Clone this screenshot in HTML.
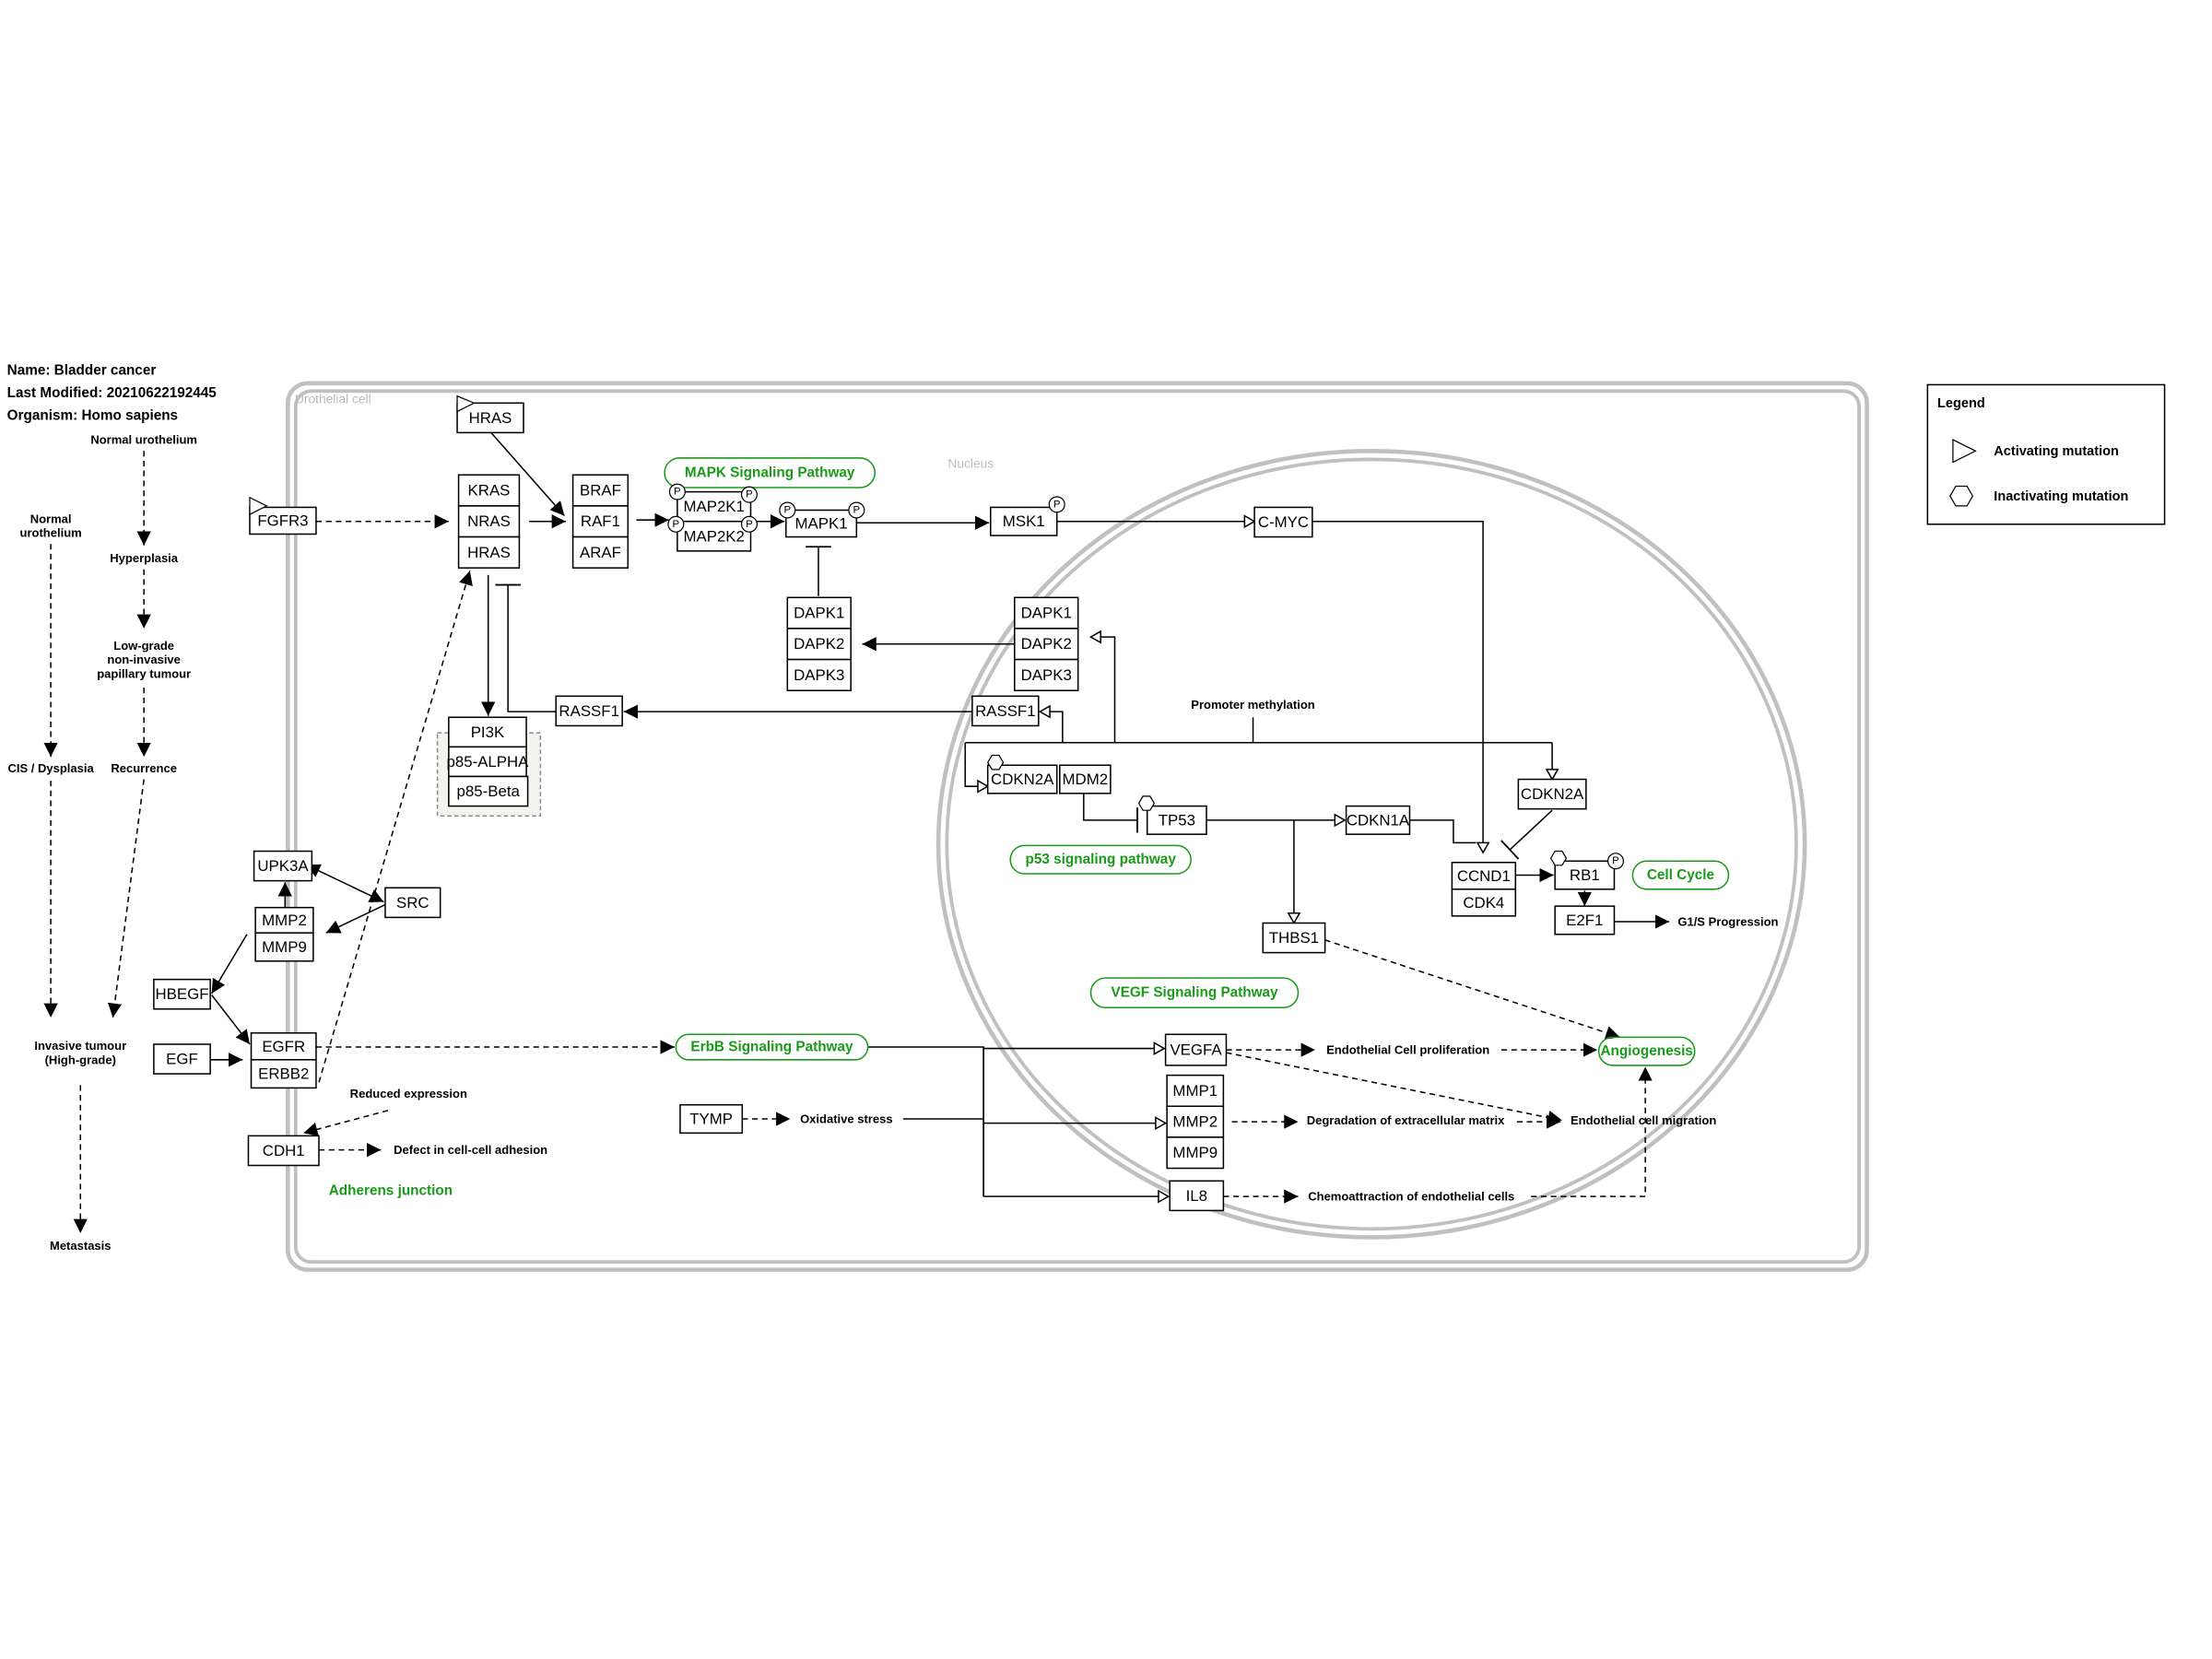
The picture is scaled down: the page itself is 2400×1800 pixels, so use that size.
<!DOCTYPE html>
<html><head><meta charset="utf-8"><style>
html,body{margin:0;padding:0;background:#fff;width:2400px;height:1800px;overflow:hidden}
text{font-family:"Liberation Sans",Arial,sans-serif}
.n{font-size:11px;fill:#000;text-anchor:middle;dominant-baseline:central}
.b{font-size:8.5px;font-weight:bold;fill:#000}
.g{font-size:10px;font-weight:bold;fill:#1a9a1a;text-anchor:middle;dominant-baseline:central}
rect.bx{fill:#fff;stroke:#000;stroke-width:1}
.l{stroke:#000;stroke-width:1;fill:none}
.d{stroke:#000;stroke-width:1;fill:none;stroke-dasharray:4,3}
.p{fill:none;stroke:#1a9a1a;stroke-width:1}
</style></head><body>
<svg width="2400" height="1800" xmlns="http://www.w3.org/2000/svg">
<defs>
<marker id="a" markerWidth="12" markerHeight="10" refX="10" refY="5" orient="auto" markerUnits="userSpaceOnUse"><path d="M0,0 L10,5 L0,10 Z" fill="#000"/></marker>
<marker id="a2" markerWidth="12" markerHeight="10" refX="2" refY="5" orient="auto-start-reverse" markerUnits="userSpaceOnUse"><path d="M0,0 L10,5 L0,10 Z" fill="#000"/></marker>
<marker id="o" markerWidth="10" markerHeight="10" refX="8" refY="5" orient="auto" markerUnits="userSpaceOnUse"><path d="M1,1 L8,5 L1,9 Z" fill="#fff" stroke="#000" stroke-width="1"/></marker>
<marker id="t" markerWidth="4" markerHeight="18" refX="2" refY="9" orient="auto" markerUnits="userSpaceOnUse"><path d="M2,0 L2,18" stroke="#000" stroke-width="1.2"/></marker>
</defs>
<g transform="scale(1.531,1.529)">
<!-- header -->
<text x="5" y="266" style="font-size:10px;font-weight:bold">Name: Bladder cancer</text>
<text x="5" y="282" style="font-size:10px;font-weight:bold">Last Modified: 20210622192445</text>
<text x="5" y="298" style="font-size:10px;font-weight:bold">Organism: Homo sapiens</text>
<!-- progression -->
<g class="b" text-anchor="middle">
<text x="102" y="315">Normal urothelium</text>
<text x="102" y="399">Hyperplasia</text>
<text x="102" y="461">Low-grade</text><text x="102" y="471">non-invasive</text><text x="102" y="481">papillary tumour</text>
<text x="102" y="548">Recurrence</text>
<text x="36" y="371">Normal</text><text x="36" y="381">urothelium</text>
<text x="36" y="548">CIS / Dysplasia</text>
<text x="57" y="745">Invasive tumour</text><text x="57" y="755">(High-grade)</text>
<text x="57" y="887">Metastasis</text>
</g>
<path class="d" d="M102,320 V387" marker-end="url(#a)"/>
<path class="d" d="M102,404 V446" marker-end="url(#a)"/>
<path class="d" d="M102,488 V537" marker-end="url(#a)"/>
<path class="d" d="M102,553 L80,722" marker-end="url(#a)"/>
<path class="d" d="M36,386 V537" marker-end="url(#a)"/>
<path class="d" d="M36,554 V722" marker-end="url(#a)"/>
<path class="d" d="M57,770 V875" marker-end="url(#a)"/>
<!-- cell -->
<rect x="204" y="272" width="1119" height="629" rx="14" fill="none" stroke="#c0c0c0" stroke-width="3"/>
<rect x="209.5" y="277.5" width="1108" height="618" rx="11" fill="none" stroke="#c0c0c0" stroke-width="2.5"/>
<text x="209" y="286" style="font-size:9px;fill:#bbb">Urothelial cell</text>
<ellipse cx="972" cy="599" rx="307" ry="279" fill="none" stroke="#c0c0c0" stroke-width="3"/>
<ellipse cx="972" cy="599" rx="301" ry="273" fill="none" stroke="#c0c0c0" stroke-width="2.5"/>
<text x="688" y="332" style="font-size:9px;fill:#bbb" text-anchor="middle">Nucleus</text>
<!-- group PI3K -->
<rect x="310" y="520" width="73" height="59" fill="#f4f4ee" stroke="#888" stroke-dasharray="3,2"/>
<!-- edges -->
<path class="d" d="M224,370 H318" marker-end="url(#a)"/>
<path class="l" d="M348,307 L400,366" marker-end="url(#a)"/>
<path class="l" d="M375,370 H401" marker-end="url(#a)"/>
<path class="l" d="M451,369 H474" marker-end="url(#a)"/>
<path class="l" d="M533,370 H556" marker-end="url(#a)"/>
<path class="l" d="M607,371 H701" marker-end="url(#a)"/>
<path class="l" d="M749,370 H889" marker-end="url(#o)"/>
<path class="l" d="M930,370 H1051 V605" marker-end="url(#o)"/>
<path class="l" d="M580,423 V388" marker-end="url(#t)"/>
<path class="l" d="M719,457 H611" marker-end="url(#a)"/>
<path class="l" d="M689,505 H442" marker-end="url(#a)"/>
<path class="l" d="M394,505 H360 V415" marker-end="url(#t)"/>
<path class="l" d="M346,408 V508" marker-end="url(#a)"/>
<text x="888" y="503" class="b" text-anchor="middle">Promoter methylation</text>
<path class="l" d="M888,509 V527 M684,527 H1100"/>
<path class="l" d="M1100,527 V553" marker-end="url(#o)"/>
<path class="l" d="M684,527 V558 H700" marker-end="url(#o)"/>
<path class="l" d="M753,527 V505 H737" marker-end="url(#o)"/>
<path class="l" d="M790,527 V452 H773" marker-end="url(#o)"/>
<path class="l" d="M768,563 V582 H806" marker-end="url(#t)"/>
<path class="l" d="M855,582 H953" marker-end="url(#o)"/>
<path class="l" d="M917,582 V655" marker-end="url(#o)"/>
<path class="l" d="M999,582 H1030 V598 H1046" />
<path class="l" d="M1100,575 L1070,603" marker-end="url(#t)"/>
<path class="l" d="M1074,621 H1101" marker-end="url(#a)"/>
<path class="l" d="M1123,632 V643" marker-end="url(#a)"/>
<path class="l" d="M1144,654 H1183" marker-end="url(#a)"/>
<text x="1189" y="657" class="b">G1/S Progression</text>
<path class="d" d="M939,667 L1148,736" marker-end="url(#a)"/>
<path class="d" d="M224,743 H478" marker-end="url(#a)"/>
<path class="d" d="M226,768 L333,405" marker-end="url(#a)"/>
<path class="l" d="M615,743 H697 V849 M697,744 H825" marker-end="url(#o)"/>
<path class="l" d="M697,797 H826" marker-end="url(#o)"/>
<path class="l" d="M697,849 H828" marker-end="url(#o)"/>
<path class="l" d="M697,743 V849" />
<path class="d" d="M526,794 H560" marker-end="url(#a)"/>
<text x="567" y="797" class="b">Oxidative stress</text>
<path class="l" d="M640,794 H697"/>
<path class="d" d="M869,745 H932" marker-end="url(#a)"/>
<text x="940" y="748" class="b">Endothelial Cell proliferation</text>
<path class="d" d="M1064,745 H1132" marker-end="url(#a)"/>
<path class="d" d="M869,747 L1107,795" marker-end="url(#a)"/>
<text x="1113" y="798" class="b">Endothelial cell migration</text>
<path class="d" d="M873,796 H920" marker-end="url(#a)"/>
<text x="926" y="798" class="b">Degradation of extracellular matrix</text>
<path class="d" d="M1075,796 H1106" marker-end="url(#a)"/>
<path class="d" d="M867,849 H920" marker-end="url(#a)"/>
<text x="927" y="852" class="b">Chemoattraction of endothelial cells</text>
<path class="d" d="M1085,849 H1166 V757" marker-end="url(#a)"/>
<path class="l" d="M224,617 L272,640" marker-start="url(#a2)" marker-end="url(#a)"/>
<path class="l" d="M273,642 L231,662" marker-end="url(#a)"/>
<path class="l" d="M202,644 V626" marker-end="url(#a)"/>
<path class="l" d="M175,663 L150,705" marker-end="url(#a)"/>
<path class="l" d="M150,706 L177,741" marker-end="url(#a)"/>
<path class="l" d="M149,752 H172" marker-end="url(#a)"/>
<text x="248" y="779" class="b">Reduced expression</text>
<path class="d" d="M275,788 L215,804" marker-end="url(#a)"/>
<path class="d" d="M226,816 H270" marker-end="url(#a)"/>
<text x="279" y="819" class="b">Defect in cell-cell adhesion</text>
<text x="233" y="848" style="font-size:10px;font-weight:bold;fill:#1a9a1a">Adherens junction</text>
<!-- nodes -->
<g>
<rect class="bx" x="324" y="286" width="47" height="21"/><text class="n" x="347.5" y="296.5">HRAS</text>
<rect class="bx" x="325" y="337" width="43" height="22"/><text class="n" x="346.5" y="348">KRAS</text>
<rect class="bx" x="325" y="359" width="43" height="22"/><text class="n" x="346.5" y="370">NRAS</text>
<rect class="bx" x="325" y="381" width="43" height="22"/><text class="n" x="346.5" y="392">HRAS</text>
<rect class="bx" x="406" y="337" width="39" height="22"/><text class="n" x="425.5" y="348">BRAF</text>
<rect class="bx" x="406" y="359" width="39" height="22"/><text class="n" x="425.5" y="370">RAF1</text>
<rect class="bx" x="406" y="381" width="39" height="22"/><text class="n" x="425.5" y="392">ARAF</text>
<rect class="bx" x="480" y="349" width="52" height="21"/><text class="n" x="506" y="359.5">MAP2K1</text>
<rect class="bx" x="480" y="370" width="52" height="21"/><text class="n" x="506" y="380.5">MAP2K2</text>
<rect class="bx" x="557" y="362" width="50" height="19"/><text class="n" x="582" y="371.5">MAPK1</text>
<rect class="bx" x="702" y="360" width="47" height="20"/><text class="n" x="725.5" y="370">MSK1</text>
<rect class="bx" x="889" y="360" width="41" height="21"/><text class="n" x="909.5" y="370.5">C-MYC</text>
<rect class="bx" x="558" y="424" width="45" height="22"/><text class="n" x="580.5" y="435">DAPK1</text>
<rect class="bx" x="558" y="446" width="45" height="22"/><text class="n" x="580.5" y="457">DAPK2</text>
<rect class="bx" x="558" y="468" width="45" height="22"/><text class="n" x="580.5" y="479">DAPK3</text>
<rect class="bx" x="719" y="424" width="45" height="22"/><text class="n" x="741.5" y="435">DAPK1</text>
<rect class="bx" x="719" y="446" width="45" height="22"/><text class="n" x="741.5" y="457">DAPK2</text>
<rect class="bx" x="719" y="468" width="45" height="22"/><text class="n" x="741.5" y="479">DAPK3</text>
<rect class="bx" x="394" y="494" width="47" height="21"/><text class="n" x="417.5" y="504.5">RASSF1</text>
<rect class="bx" x="689" y="494" width="47" height="21"/><text class="n" x="712.5" y="504.5">RASSF1</text>
<rect class="bx" x="318" y="509" width="55" height="21"/><text class="n" x="345.5" y="519.5">PI3K</text>
<rect class="bx" x="318" y="530" width="55" height="21"/><text class="n" x="345.5" y="540.5">p85-ALPHA</text>
<rect class="bx" x="318" y="551" width="56" height="21"/><text class="n" x="346" y="561.5">p85-Beta</text>
<rect class="bx" x="700" y="543" width="49" height="20"/><text class="n" x="724.5" y="553">CDKN2A</text>
<rect class="bx" x="751" y="543" width="36" height="20"/><text class="n" x="769" y="553">MDM2</text>
<rect class="bx" x="813" y="572" width="42" height="20"/><text class="n" x="834" y="582">TP53</text>
<rect class="bx" x="954" y="572" width="45" height="20"/><text class="n" x="976.5" y="582">CDKN1A</text>
<rect class="bx" x="1076" y="553" width="48" height="21"/><text class="n" x="1100" y="563.5">CDKN2A</text>
<rect class="bx" x="1029" y="612" width="45" height="19"/><text class="n" x="1051.5" y="621.5">CCND1</text>
<rect class="bx" x="1029" y="631" width="45" height="19"/><text class="n" x="1051.5" y="640.5">CDK4</text>
<rect class="bx" x="1102" y="611" width="42" height="20"/><text class="n" x="1123" y="621">RB1</text>
<rect class="bx" x="1102" y="643" width="42" height="20"/><text class="n" x="1123" y="653">E2F1</text>
<rect class="bx" x="895" y="655" width="44" height="21"/><text class="n" x="917" y="665.5">THBS1</text>
<rect class="bx" x="177" y="360" width="47" height="19"/><text class="n" x="200.5" y="369.5">FGFR3</text>
<rect class="bx" x="180" y="604" width="41" height="21"/><text class="n" x="200.5" y="614.5">UPK3A</text>
<rect class="bx" x="273" y="630" width="39" height="21"/><text class="n" x="292.5" y="640.5">SRC</text>
<rect class="bx" x="181" y="644" width="41" height="18"/><text class="n" x="201.5" y="653">MMP2</text>
<rect class="bx" x="181" y="662" width="41" height="20"/><text class="n" x="201.5" y="672">MMP9</text>
<rect class="bx" x="109" y="695" width="40" height="21"/><text class="n" x="129" y="705.5">HBEGF</text>
<rect class="bx" x="109" y="741" width="40" height="21"/><text class="n" x="129" y="751.5">EGF</text>
<rect class="bx" x="178" y="733" width="46" height="19"/><text class="n" x="201" y="742.5">EGFR</text>
<rect class="bx" x="178" y="752" width="46" height="20"/><text class="n" x="201" y="762">ERBB2</text>
<rect class="bx" x="176" y="806" width="50" height="21"/><text class="n" x="201" y="816.5">CDH1</text>
<rect class="bx" x="482" y="784" width="44" height="20"/><text class="n" x="504" y="794">TYMP</text>
<rect class="bx" x="826" y="734" width="43" height="22"/><text class="n" x="847.5" y="745">VEGFA</text>
<rect class="bx" x="827" y="763" width="40" height="22"/><text class="n" x="847" y="774">MMP1</text>
<rect class="bx" x="827" y="785" width="40" height="22"/><text class="n" x="847" y="796">MMP2</text>
<rect class="bx" x="827" y="807" width="40" height="22"/><text class="n" x="847" y="818">MMP9</text>
<rect class="bx" x="829" y="838" width="38" height="21"/><text class="n" x="848" y="848.5">IL8</text>
</g>
<!-- pathway pills -->
<rect class="p" x="471" y="325" width="149" height="21" rx="10.5"/><text class="g" x="545.5" y="335.5">MAPK Signaling Pathway</text>
<rect class="p" x="716" y="600" width="128" height="20" rx="10"/><text class="g" x="780" y="610">p53 signaling pathway</text>
<rect class="p" x="1157" y="611" width="68" height="20" rx="10"/><text class="g" x="1191" y="621">Cell Cycle</text>
<rect class="p" x="773" y="694" width="147" height="21" rx="10.5"/><text class="g" x="846.5" y="704.5">VEGF Signaling Pathway</text>
<rect class="p" x="479" y="734" width="136" height="18" rx="9"/><text class="g" x="547" y="743">ErbB Signaling Pathway</text>
<rect class="p" x="1133" y="736" width="68" height="20" rx="10"/><text class="g" x="1167" y="746">Angiogenesis</text>
<!-- P circles -->
<g fill="#fff" stroke="#000" stroke-width="0.8">
<circle cx="480" cy="349" r="5.5"/><circle cx="531" cy="351" r="5.5"/>
<circle cx="479" cy="372" r="5.5"/><circle cx="531" cy="372" r="5.5"/>
<circle cx="558" cy="362" r="5.5"/><circle cx="607" cy="362" r="5.5"/>
<circle cx="749" cy="358" r="5.5"/><circle cx="1145" cy="611" r="5.5"/>
</g>
<g style="font-size:7.5px" text-anchor="middle" dominant-baseline="central">
<text x="480" y="349">P</text><text x="531" y="351">P</text><text x="479" y="372">P</text><text x="531" y="372">P</text>
<text x="558" y="362">P</text><text x="607" y="362">P</text><text x="749" y="358">P</text><text x="1145" y="611">P</text>
</g>
<!-- mutation markers -->
<g fill="#fff" stroke="#000" stroke-width="0.8">
<path d="M324,281 L336,286 L324,292 Z"/>
<path d="M177,353 L189,359 L177,365 Z"/>
<path d="M700,541 L703,536 L708,536 L711,541 L708,546 L703,546 Z"/>
<path d="M807,570 L810,565 L815,565 L818,570 L815,575 L810,575 Z"/>
<path d="M1099,609 L1102,604 L1107,604 L1110,609 L1107,614 L1102,614 Z"/>
</g>
<!-- legend -->
<rect x="1366" y="273" width="168" height="99" fill="#fff" stroke="#000"/>
<text x="1373" y="289" style="font-size:9.5px;font-weight:bold">Legend</text>
<path d="M1384,312 L1400,320 L1384,328 Z" fill="#fff" stroke="#000" stroke-width="0.8"/>
<text x="1413" y="323" style="font-size:9.5px;font-weight:bold">Activating mutation</text>
<path d="M1382,352 L1386,345 L1394,345 L1398,352 L1394,359 L1386,359 Z" fill="#fff" stroke="#000" stroke-width="0.8"/>
<text x="1413" y="355" style="font-size:9.5px;font-weight:bold">Inactivating mutation</text>
</g>
</svg>
</body></html>
